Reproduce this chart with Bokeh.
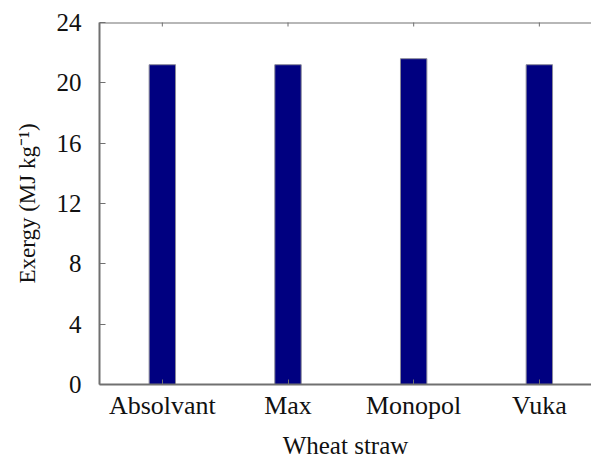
import math
from bokeh.plotting import figure
from bokeh.models import Range1d, FixedTicker, ColumnDataSource, Span
from bokeh.embed import file_html
from bokeh.resources import INLINE

categories = ["Absolvant", "Max", "Monopol", "Vuka"]
exergy = [21.2, 21.2, 21.6, 21.2]
y_ticks = [0, 4, 8, 12, 16, 20, 24]

xpos = [i + 0.5 for i in range(len(categories))]
src = ColumnDataSource(dict(x=xpos, top=exergy))
ysrc = ColumnDataSource(dict(x=xpos, y=[y_ticks[-1]] * len(xpos)))

FONT = "'Liberation Serif', 'Times New Roman', serif"
AX = "#707070"
TXT = "#111111"

p = figure(width=591, height=461, output_backend="svg", toolbar_location=None,
           x_range=Range1d(0, 3.915), y_range=Range1d(0, 24),
           min_border_left=99, min_border_top=22, min_border_bottom=77, min_border_right=0)
p.outline_line_color = None
p.xgrid.visible = False
p.ygrid.visible = False
p.background_fill_color = "white"

p.vbar(x="x", top="top", bottom=0, width=0.21, source=src,
       fill_color="#000080", line_color="#8a8a99", line_width=1)

# top frame line with inward ticks at category centres
p.add_layout(Span(location=24, dimension="width", line_color=AX, line_width=2))
p.scatter(x="x", y="y", source=ysrc, marker="dash", angle=math.pi / 2, size=8,
          line_color=AX, line_width=1)

xa = p.xaxis[0]
xa.ticker = FixedTicker(ticks=xpos)
xa.major_label_overrides = {x: c for x, c in zip(xpos, categories)}
xa.major_tick_in = 5
xa.major_tick_out = 0
xa.minor_tick_line_color = None
xa.axis_line_color = AX
xa.axis_line_width = 2
xa.major_tick_line_color = AX
xa.major_label_text_font = FONT
xa.major_label_text_font_size = "26px"
xa.major_label_text_color = TXT
xa.major_label_standoff = 6
xa.axis_label = "Wheat straw"
xa.axis_label_text_font = FONT
xa.axis_label_text_font_size = "25px"
xa.axis_label_text_font_style = "normal"
xa.axis_label_text_color = TXT
xa.axis_label_standoff = 9

ya = p.yaxis[0]
ya.ticker = FixedTicker(ticks=y_ticks)
ya.major_tick_in = 6
ya.major_tick_out = 0
ya.minor_tick_line_color = None
ya.axis_line_color = AX
ya.axis_line_width = 2
ya.major_tick_line_color = AX
ya.major_label_text_font = FONT
ya.major_label_text_font_size = "25px"
ya.major_label_text_color = TXT
ya.major_label_standoff = 18
ya.axis_label = "Exergy (MJ kg\u207b\u00b9)"
ya.axis_label_text_font = FONT
ya.axis_label_text_font_size = "23px"
ya.axis_label_text_font_style = "normal"
ya.axis_label_text_color = TXT
ya.axis_label_standoff = 14

open("out.html", "w").write(file_html(p, INLINE))
